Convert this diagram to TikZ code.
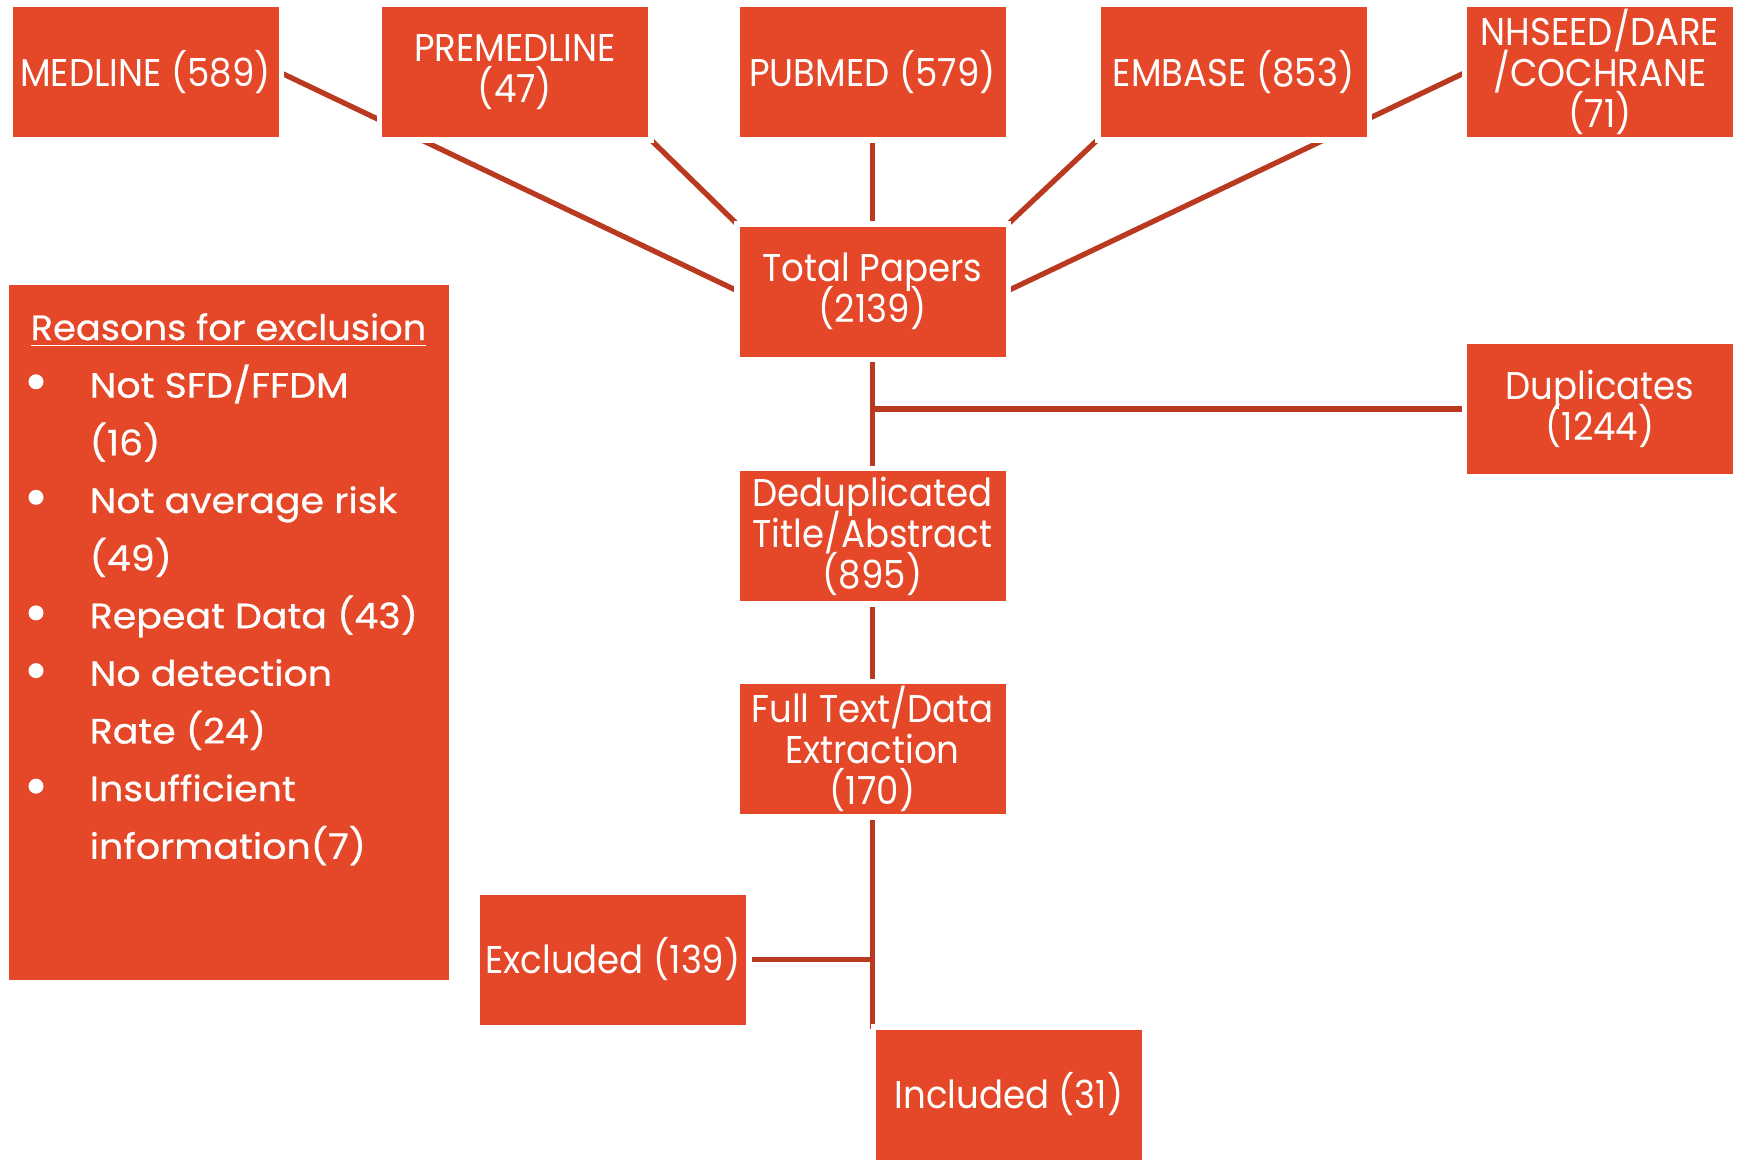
\documentclass[tikz,border=0pt]{standalone}
\usepackage{fontspec}
\usepackage{graphicx}
\setmainfont{Poppins}
\newfontfamily\boxfont[FakeStretch=0.92]{Poppins}
\newfontfamily\notefont[FakeStretch=1.08, FakeBold=0.6]{Poppins}
\usetikzlibrary{positioning, backgrounds}
\definecolor{boxred}{HTML}{E54828}
\definecolor{linkred}{HTML}{BA3A21}

\newcommand{\boxtype}{\boxfont\fontsize{11}{11.7}\selectfont\lineskiplimit=-30pt\relax}

\tikzset{
  srcbox/.style={rectangle, fill=boxred, text=white, minimum width=2.66cm, minimum height=1.30cm,
    inner xsep=1pt, inner ysep=0pt, align=center, font=\boxtype,
    preaction={draw=white, line width=0.11cm}},
  notebox/.style={rectangle, fill=boxred, minimum width=4.40cm, minimum height=6.95cm, inner sep=0pt},
  link/.style={draw=linkred, line width=1.5pt},
}

\begin{document}
\begin{tikzpicture}
	\useasboundingbox (0,0) rectangle (17.41,-11.59);
	
	% databases
	\node[srcbox] (medline) at (1.455,-0.72) {MEDLINE (589)};
	\node[srcbox] (premedline) at (5.15,-0.72) {PREMEDLINE\\(47)};
	\node[srcbox] (pubmed) at (8.725,-0.72) {PUBMED (579)};
	\node[srcbox] (embase) at (12.335,-0.72) {EMBASE (853)};
	\node[srcbox] (nhseed) at (16.00,-0.72) {NHSEED/DARE\\/COCHRANE\\(71)};
	
	% screening
	\node[srcbox] (total) at (8.725,-2.915) {Total Papers\\(2139)};
	\node[srcbox] (duplicates) at (16.00,-4.09) {Duplicates\\(1244)};
	\node[srcbox] (dedup) at (8.725,-5.36) {Deduplicated\\Title/Abstract\\(895)};
	\node[srcbox] (fulltext) at (8.725,-7.49) {Full Text/Data\\Extraction\\(170)};
	\node[srcbox] (excluded) at (6.13,-9.595) {Excluded (139)};
	\node[srcbox] (included) at (10.09,-10.945) {Included (31)};
	
	% reasons for exclusion
	\node[notebox] (reasons) at (2.29,-6.325) {};
	\node[anchor=base west, inner sep=0pt, text=white, font=\notefont\fontsize{10}{16.4}\selectfont] (reasonlist) at (0.30,-3.40)
	{\begin{tabular}[t]{@{}p{0.45cm}@{\hspace{0.14cm}}l@{}}
		\multicolumn{2}{@{}l@{}}{\underline{\scalebox{0.97}[1]{Reasons for exclusion}}}\\
		 & Not SFD/FFDM\\
		 & (16)\\
		 & Not average risk\\
		 & (49)\\
		 & Repeat Data (43)\\
		 & No detection\\
		 & Rate (24)\\
		 & Insufficient\\
		 & information(7)
	\end{tabular}};
	\foreach \k in {1,3,5,6,8}
		\fill[white] (0.36,{-3.40-0.5777*\k+0.16}) circle (0.075);
	
	% connectors
	\begin{scope}[on background layer]
		\draw[link] (medline.east) -- (total.west);
		\draw[link] (premedline.south east) -- (total.north west);
		\draw[link] (pubmed.south) -- (total.north);
		\draw[link] (embase.south west) -- (total.north east);
		\draw[link] (nhseed.west) -- (total.east);
		\draw[link] (total.south) -- (dedup.north);
		\draw[link] (duplicates.west) -- (duplicates.west -| total.south);
		\draw[link] (dedup.south) -- (fulltext.north);
		\draw[link] (fulltext.south) -- (fulltext.south |- included.north);
		\draw[link] (excluded.east) -- (excluded.east -| fulltext.south);
	\end{scope}
	
\end{tikzpicture}
\end{document}
